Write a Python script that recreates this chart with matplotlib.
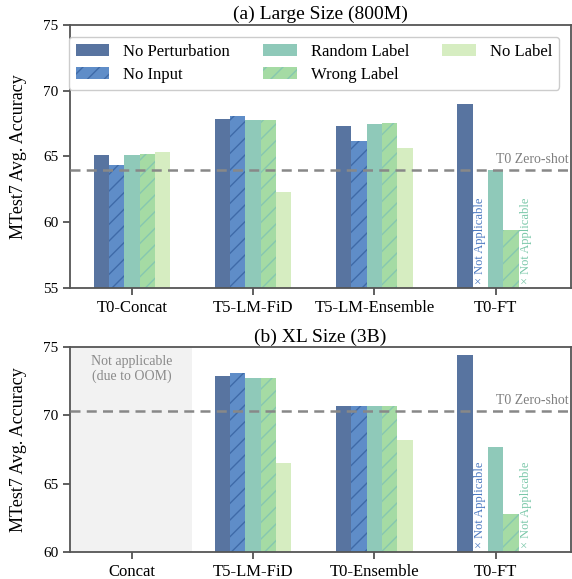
import numpy as np
import matplotlib
matplotlib.use('Agg')
import matplotlib.pyplot as plt

plt.rcParams['font.family'] = ['Liberation Serif', 'DejaVu Serif']
plt.rcParams['hatch.linewidth'] = 1.0

# series names and styles
series = ['No Perturbation', 'No Input', 'Random Label', 'Wrong Label', 'No Label']
colors = ['#5874a0', '#5f8dc8', '#8fc9b9', '#a5dba4', '#d6edc1']
hatch_colors = ['#5874a0', '#3f6aa8', '#8fc9b9', '#86c7b0', '#d6edc1']
hatches = ['', '//', '', '//', '']

# (a) Large Size (800M)
cats_a = ['T0-Concat', 'T5-LM-FiD', 'T5-LM-Ensemble', 'T0-FT']
vals_a = {
    'No Perturbation': [65.1, 67.85, 67.35, 68.95],
    'No Input':        [64.35, 68.1, 66.15, np.nan],
    'Random Label':    [65.1, 67.75, 67.45, 64.0],
    'Wrong Label':     [65.2, 67.8, 67.55, 59.4],
    'No Label':        [65.3, 62.3, 65.65, np.nan],
}
zero_shot_a = 64.0

# (b) XL Size (3B)
cats_b = ['Concat', 'T5-LM-FiD', 'T0-Ensemble', 'T0-FT']
vals_b = {
    'No Perturbation': [np.nan, 72.9, 70.7, 74.45],
    'No Input':        [np.nan, 73.1, 70.7, np.nan],
    'Random Label':    [np.nan, 72.7, 70.7, 67.7],
    'Wrong Label':     [np.nan, 72.75, 70.7, 62.75],
    'No Label':        [np.nan, 66.5, 68.2, np.nan],
}
zero_shot_b = 70.35

fig = plt.figure(figsize=(5.72, 5.79), dpi=100)
ax_a = fig.add_axes([0.1224, 0.5026, 0.8756, 0.4544])
ax_b = fig.add_axes([0.1224, 0.0466, 0.8756, 0.3541])

width = 0.126
offsets = (np.arange(5) - 2) * width


def draw_panel(ax, cats, vals, zero_shot, ylim, yticks, title):
    x = np.arange(len(cats))
    for i, s in enumerate(series):
        ax.bar(x + offsets[i], np.array(vals[s]) - ylim[0], width, bottom=ylim[0],
               color=colors[i], edgecolor=hatch_colors[i], linewidth=0,
               hatch=hatches[i], label=s, zorder=2)
    ax.axhline(zero_shot, color='#888888', ls=(0, (4, 2.5)), lw=1.8, zorder=3)
    ax.text(3.6, zero_shot + 0.25, 'T0 Zero-shot', ha='right', va='bottom',
            fontsize=10, color='#7f7f7f')
    # not applicable marks for T0-FT
    ax.text(3 + offsets[1], ylim[0] + 0.3, '× Not Applicable', rotation=90,
            ha='center', va='bottom', fontsize=9, color='#4a78c0')
    ax.text(3 + offsets[4], ylim[0] + 0.3, '× Not Applicable', rotation=90,
            ha='center', va='bottom', fontsize=9, color='#79c7a8')
    ax.set_xlim(-0.51, 3.62)
    ax.set_ylim(*ylim)
    ax.set_yticks(yticks)
    ax.set_xticks(x)
    ax.set_xticklabels(cats, fontsize=12)
    ax.tick_params(axis='y', labelsize=11, length=5, width=1.2, color='#444444')
    ax.tick_params(axis='x', length=5, width=1.2, color='#444444')
    ax.set_ylabel('MTest7 Avg. Accuracy', fontsize=13)
    ax.yaxis.set_label_coords(-0.085, 0.5)
    ax.set_title(title, fontsize=14, pad=4)
    for sp in ax.spines.values():
        sp.set_color('#555555')
        sp.set_linewidth(1.3)


draw_panel(ax_a, cats_a, vals_a, zero_shot_a, (55, 75), [55, 60, 65, 70, 75],
           '(a) Large Size (800M)')
draw_panel(ax_b, cats_b, vals_b, zero_shot_b, (60, 75), [60, 65, 70, 75],
           '(b) XL Size (3B)')

ax_b.axvspan(-0.5, 0.5, color='#f2f2f2', zorder=0, lw=0)
ax_b.text(0, 74.4, 'Not applicable\n(due to OOM)', ha='center', va='top',
          fontsize=10, color='#8a8a8a', linespacing=1.1)

ax_a.legend(loc='upper left', bbox_to_anchor=(-0.002, 0.954), ncol=3, fontsize=12,
            handlelength=2.0, handleheight=0.75, handletextpad=0.85,
            columnspacing=2.0, labelspacing=0.45, borderaxespad=0.0,
            frameon=True, edgecolor='#cccccc', framealpha=1.0)

fig.savefig('out.png', dpi=100)
